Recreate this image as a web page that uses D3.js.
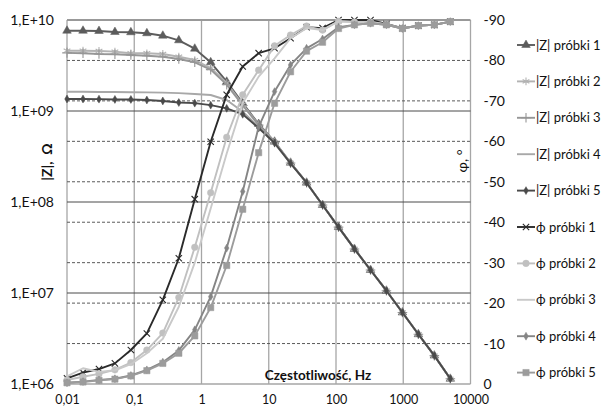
<!DOCTYPE html>
<html>
<head>
<meta charset="utf-8">
<script src="https://cdn.jsdelivr.net/npm/d3@7"></script>
<style>
    body { margin: 0; background: #fff; }
    svg { display: block; font-family: Lato, 'Open Sans', sans-serif; }
</style>
</head>
<body>
<svg id="chart" width="603" height="408"></svg>
<script>
// częstotliwości pomiaru, Hz
const freq = [0.01, 0.0173, 0.0299, 0.0516, 0.0891, 0.154, 0.266, 0.46, 0.794, 1.37, 2.37, 4.1, 7.08,
    12.2, 21.1, 36.5, 63.1, 109, 188, 326, 562, 972, 1679, 2900, 5012]

// |Z|, Ohm
const zSample1 = [7.62e9, 7.62e9, 7.57e9, 7.38e9, 7.33e9, 7.15e9, 6.72e9, 5.98e9, 4.84e9, 3.43e9, 2.10e9, 1.22e9, 7.2e8,
    4.6e8, 2.70e8, 1.63e8, 9.27e7, 5.3e7, 3.05e7, 1.79e7, 1.06e7, 6.1e6, 3.52e6, 2.05e6, 1.14e6]
const zSample2 = [4.6e9, 4.6e9, 4.57e9, 4.49e9, 4.31e9, 4.31e9, 4.23e9, 3.95e9, 3.63e9, 2.97e9, 2.03e9, 1.18e9, 7.1e8,
    4.55e8, 2.69e8, 1.63e8, 9.27e7, 5.3e7, 3.05e7, 1.79e7, 1.06e7, 6.1e6, 3.52e6, 2.05e6, 1.14e6]
const zSample3 = [4.35e9, 4.31e9, 4.23e9, 4.2e9, 4.12e9, 4.05e9, 3.95e9, 3.73e9, 3.43e9, 2.85e9, 1.95e9, 1.15e9, 7.0e8,
    4.5e8, 2.68e8, 1.63e8, 9.27e7, 5.3e7, 3.05e7, 1.79e7, 1.06e7, 6.1e6, 3.52e6, 2.05e6, 1.14e6]
const zSample4 = [1.63e9, 1.63e9, 1.62e9, 1.62e9, 1.61e9, 1.60e9, 1.59e9, 1.57e9, 1.54e9, 1.50e9, 1.32e9, 9.8e8, 6.7e8,
    4.4e8, 2.66e8, 1.63e8, 9.27e7, 5.3e7, 3.05e7, 1.79e7, 1.06e7, 6.1e6, 3.52e6, 2.05e6, 1.14e6]
const zSample5 = [1.355e9, 1.355e9, 1.35e9, 1.34e9, 1.34e9, 1.32e9, 1.29e9, 1.24e9, 1.22e9, 1.16e9, 1.07e9, 9.2e8, 6.5e8,
    4.45e8, 2.66e8, 1.63e8, 9.27e7, 5.3e7, 3.05e7, 1.79e7, 1.06e7, 6.1e6, 3.52e6, 2.05e6, 1.14e6]

// kąt fazowy, stopnie
const phiSample1 = [-1.4, -2.8, -3.7, -5.1, -8.4, -12.5, -20.8, -31.1, -45.7, -59.9, -71.5, -78.5, -81.8,
    -83.0, -85.5, -88.2, -88.0, -90, -90, -90, -89, -88, -88.6, -88.8, -89.6]
const phiSample2 = [-1.0, -1.8, -2.5, -3.5, -5.3, -8.4, -12.6, -21.4, -33.8, -47.3, -61.0, -71.5, -77.6,
    -83.6, -86.3, -88.5, -87.5, -89.7, -89.5, -89.5, -88.9, -87.9, -88.6, -88.8, -89.6]
const phiSample3 = [-1.9, -3.9, -3.0, -3.4, -4.9, -7.6, -11.2, -19.1, -30.0, -43.4, -57.0, -69.5, -76.0,
    -80.5, -85.5, -88.0, -87.5, -89.7, -89.5, -89.5, -88.9, -87.9, -88.6, -88.8, -89.6]
const phiSample4 = [-0.3, -0.6, -1.0, -1.3, -2.1, -3.5, -5.4, -8.3, -13.4, -21.6, -33.6, -47.6, -63.6,
    -72.3, -78.9, -83.0, -85.3, -88.2, -88.8, -89.2, -88.8, -87.9, -88.6, -88.8, -89.6]
const phiSample5 = [-0.3, -0.5, -0.9, -1.2, -2.0, -3.3, -5.1, -7.6, -11.9, -18.9, -29.3, -43.2, -57.2,
    -69.4, -77.2, -82.3, -84.5, -87.9, -88.8, -89.2, -88.8, -87.9, -88.6, -88.8, -89.6]

const seriesNames = ['|Z| próbki 1', '|Z| próbki 2', '|Z| próbki 3', '|Z| próbki 4', '|Z| próbki 5',
    'ϕ próbki 1', 'ϕ próbki 2', 'ϕ próbki 3', 'ϕ próbki 4', 'ϕ próbki 5']

const xTicks = [0.01, 0.1, 1, 10, 100, 1000, 10000]
const xTickLabels = ['0,01', '0,1', '1', '10', '100', '1000', '10000']
const zTicks = [1e6, 1e7, 1e8, 1e9, 1e10]
const zTickLabels = ['1,E+06', '1,E+07', '1,E+08', '1,E+09', '1,E+10']
const phiTicks = [0, -10, -20, -30, -40, -50, -60, -70, -80, -90]

// wygląd serii (kolor, znacznik)
const series = [
    { name: seriesNames[0], data: zSample1, axis: 'z', color: '#5c5c5c', symbol: d3.symbolTriangle, size: 32, filled: true },
    { name: seriesNames[1], data: zSample2, axis: 'z', color: '#b3b3b3', symbol: d3.symbolAsterisk, size: 42, filled: false },
    { name: seriesNames[2], data: zSample3, axis: 'z', color: '#969696', symbol: d3.symbolPlus, size: 32, filled: false },
    { name: seriesNames[3], data: zSample4, axis: 'z', color: '#a8a8a8', symbol: null },
    { name: seriesNames[4], data: zSample5, axis: 'z', color: '#4a4a4a', symbol: d3.symbolDiamond, size: 18, filled: true },
    { name: seriesNames[5], data: phiSample1, axis: 'phi', color: '#2a2a2a', symbol: d3.symbolTimes, size: 28, filled: false },
    { name: seriesNames[6], data: phiSample2, axis: 'phi', color: '#c0c0c0', symbol: d3.symbolCircle, size: 34, filled: true },
    { name: seriesNames[7], data: phiSample3, axis: 'phi', color: '#c9c9c9', symbol: null },
    { name: seriesNames[8], data: phiSample4, axis: 'phi', color: '#858585', symbol: d3.symbolDiamond, size: 18, filled: true },
    { name: seriesNames[9], data: phiSample5, axis: 'phi', color: '#9c9c9c', symbol: d3.symbolSquare, size: 40, filled: true }
]

const plotLeft = 67
const plotRight = 470.5
const plotTop = 20
const plotBottom = 384

const svg = d3.select('#chart')

const x = d3.scaleLog().domain([0.01, 10000]).range([plotLeft, plotRight])
const yZ = d3.scaleLog().domain([1e6, 1e10]).range([plotBottom, plotTop])
const yPhi = d3.scaleLinear().domain([0, -90]).range([plotBottom, plotTop])

// siatka
const grid = svg.append('g')
grid.selectAll('.vgrid')
    .data(xTicks)
    .enter()
    .append('line')
    .attr('x1', d => x(d)).attr('x2', d => x(d))
    .attr('y1', plotTop).attr('y2', plotBottom)
    .attr('stroke', '#a6a6a6')
    .attr('stroke-width', 1.3)

grid.selectAll('.dgrid')
    .data(phiTicks.filter(d => d !== 0 && d !== -90))
    .enter()
    .append('line')
    .attr('x1', plotLeft).attr('x2', plotRight)
    .attr('y1', d => yPhi(d)).attr('y2', d => yPhi(d))
    .attr('stroke', '#5a5a5a')
    .attr('stroke-width', 1)
    .attr('stroke-dasharray', '3,2')

grid.selectAll('.hgrid')
    .data(zTicks.filter(d => d !== 1e6 && d !== 1e10))
    .enter()
    .append('line')
    .attr('x1', plotLeft).attr('x2', plotRight)
    .attr('y1', d => yZ(d)).attr('y2', d => yZ(d))
    .attr('stroke', '#4a4a4a')
    .attr('stroke-width', 1)

grid.append('line')
    .attr('x1', plotLeft).attr('x2', plotRight)
    .attr('y1', plotTop).attr('y2', plotTop)
    .attr('stroke', '#999')
    .attr('stroke-width', 2)
grid.append('line')
    .attr('x1', plotLeft).attr('x2', plotRight)
    .attr('y1', plotBottom).attr('y2', plotBottom)
    .attr('stroke', '#a6a6a6')
    .attr('stroke-width', 1.3)

// osie
const axisFont = size => g => g.call(s => s.select('.domain').remove())
    .selectAll('text')
    .attr('font-family', 'Lato, sans-serif')
    .attr('font-size', size)
    .attr('fill', '#111')

svg.append('g')
    .attr('transform', `translate(${plotLeft},0)`)
    .call(d3.axisLeft(yZ).tickValues(zTicks).tickFormat((d, i) => zTickLabels[i]).tickSize(0).tickPadding(13))
    .call(axisFont(14))

svg.append('g')
    .attr('transform', `translate(${plotRight},0)`)
    .call(d3.axisRight(yPhi).tickValues(phiTicks).tickFormat(d => String(d)).tickSize(0).tickPadding(13))
    .call(axisFont(14))

svg.append('g')
    .attr('transform', `translate(0,${plotBottom})`)
    .call(d3.axisBottom(x).tickValues(xTicks).tickFormat((d, i) => xTickLabels[i]).tickSize(0).tickPadding(11))
    .call(axisFont(12.5))

// serie
const yFor = s => (s.axis === 'z' ? yZ : yPhi)

series.forEach(s => {
    const y = yFor(s)
    const line = d3.line()
        .x((d, i) => x(freq[i]))
        .y(d => y(d))

    svg.append('path')
        .datum(s.data)
        .attr('d', line)
        .attr('fill', 'none')
        .attr('stroke', s.color)
        .attr('stroke-width', 1.9)
        .attr('stroke-linejoin', 'round')

    if (s.symbol) {
        svg.append('g')
            .selectAll('path')
            .data(s.data)
            .enter()
            .append('path')
            .attr('transform', (d, i) => `translate(${x(freq[i])},${y(d)})`)
            .attr('d', d3.symbol().type(s.symbol).size(s.size))
            .attr('fill', s.filled ? s.color : 'none')
            .attr('stroke', s.color)
            .attr('stroke-width', s.filled ? 0.5 : 1.1)
    }
})

// tytuły osi
svg.append('text')
    .attr('transform', 'translate(52,162) rotate(-90)')
    .attr('text-anchor', 'middle')
    .attr('font-size', 14)
    .attr('font-weight', 'bold')
    .attr('fill', '#111')
    .text('|Z|,\u00a0\u00a0Ω')

svg.append('text')
    .attr('transform', 'translate(467,161) rotate(-90)')
    .attr('text-anchor', 'middle')
    .attr('font-size', 14)
    .attr('fill', '#111')
    .text('φ, °')

svg.append('text')
    .attr('x', 318)
    .attr('y', 380)
    .attr('text-anchor', 'middle')
    .attr('font-size', 13.5)
    .attr('font-weight', 'bold')
    .attr('fill', '#111')
    .text('Częstotliwość, Hz')

// legenda
const legend = svg.append('g').attr('class', 'legend')
const lg = legend.selectAll('g')
    .data(series)
    .enter()
    .append('g')
    .attr('transform', (d, i) => `translate(517,${45 + i * 36.4})`)

lg.append('line')
    .attr('x1', 0).attr('x2', 18)
    .attr('stroke', d => d.color)
    .attr('stroke-width', 1.9)

lg.filter(d => d.symbol)
    .append('path')
    .attr('transform', 'translate(9,0)')
    .attr('d', d => d3.symbol().type(d.symbol).size(d.size)())
    .attr('fill', d => (d.filled ? d.color : 'none'))
    .attr('stroke', d => d.color)
    .attr('stroke-width', d => (d.filled ? 0.5 : 1.1))

lg.append('text')
    .attr('x', 19)
    .attr('dy', '0.35em')
    .attr('font-size', 13)
    .attr('fill', '#111')
    .text(d => d.name)
</script>
</body>
</html>
